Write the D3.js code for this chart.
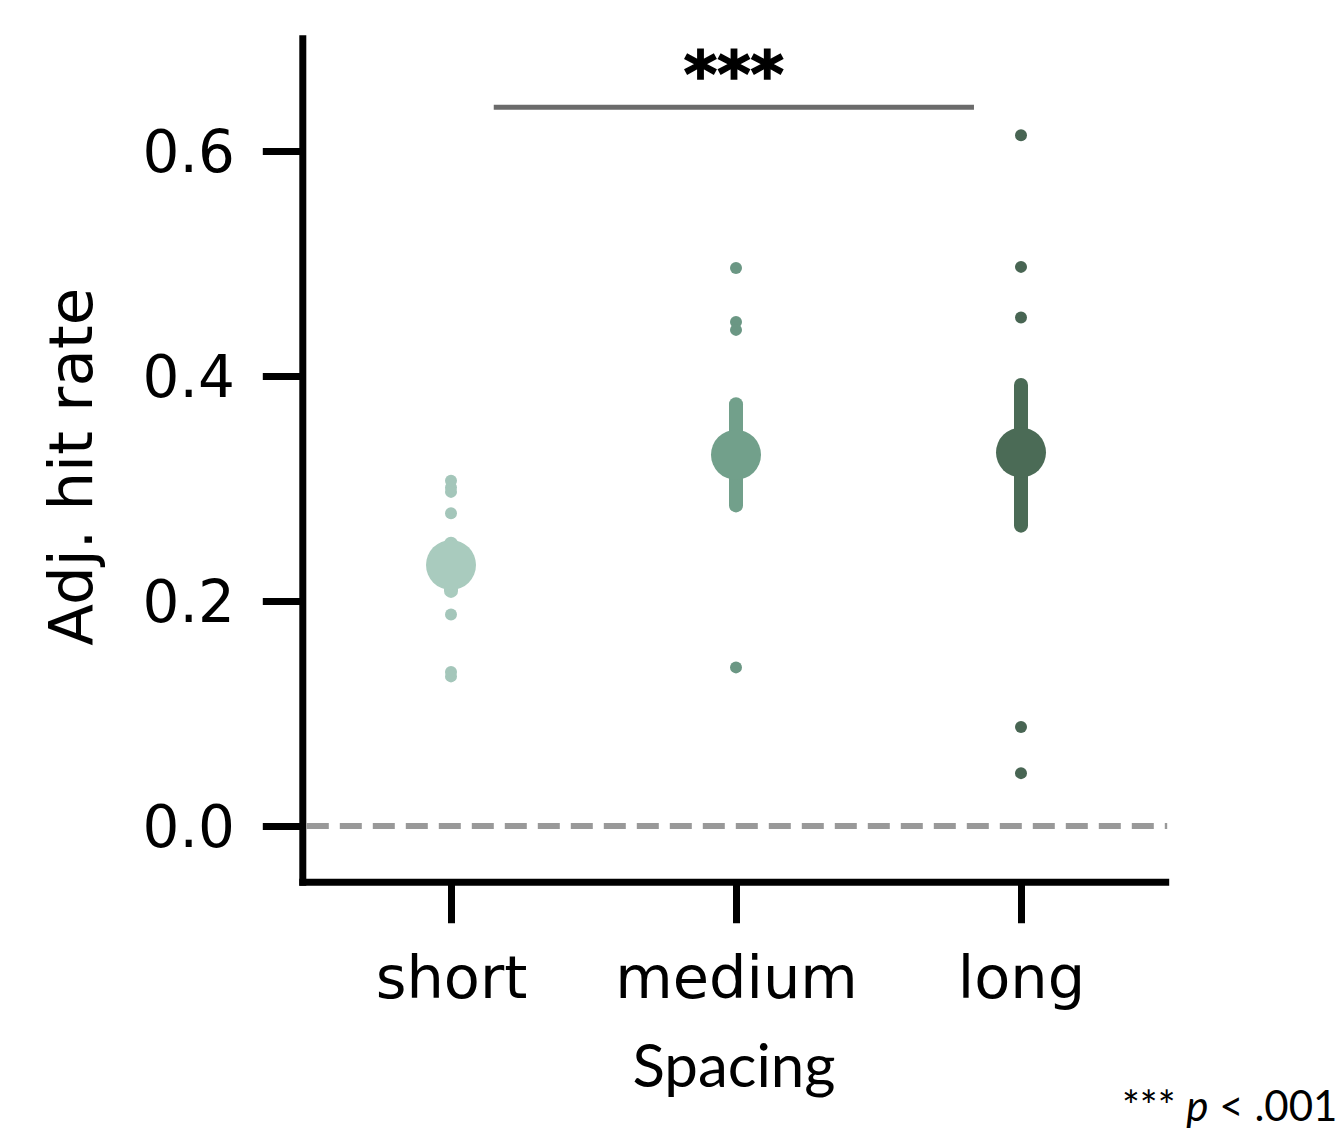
<!DOCTYPE html>
<html lang="en">
<head>
<meta charset="UTF-8">
<title>Adj. hit rate by spacing</title>
<script src="https://d3js.org/d3.v7.min.js"></script>
<style>
    body { margin: 0; background: #fff; }
    svg { display: block; }
</style>
</head>
<body>
<div id="chart"></div>
<script>
// categories and summary values
var categories = ['short', 'medium', 'long'];
var means      = [0.232, 0.330, 0.332];
var ciLow      = [0.209, 0.285, 0.267];
var ciHigh     = [0.251, 0.375, 0.392];
var colors     = ['#a9cbbe', '#72a08b', '#4b6b56'];
var dotColors  = ['#a4c6ba', '#6b9784', '#486553'];

// individual participant points that are visible
var shortDots  = [0.307, 0.301, 0.297, 0.278, 0.188, 0.137, 0.133];
var mediumDots = [0.496, 0.448, 0.441, 0.141];
var longDots   = [0.614, 0.497, 0.452, 0.088, 0.047];

var yTicks = [0.0, 0.2, 0.4, 0.6];
var yMin = -0.05, yMax = 0.703;
var xMin = -0.52, xMax = 2.52;

// significance bracket (data units)
var sigFrom = 0.15, sigTo = 1.835, sigY = 0.639;

var w = 1340, h = 1131;

var svg = d3.select('#chart').append('svg')
    .attr('width', w)
    .attr('height', h);

var x = d3.scaleLinear().domain([0, 2]).range([451, 1021]);
var y = d3.scaleLinear().domain([0, 0.6]).range([826, 151]);

var tickFont = "'DejaVu Sans', sans-serif";
var gillFont = "Lato, 'Open Sans', sans-serif";

// zero reference line
svg.append('line')
    .attr('x1', x(xMin) + 4).attr('x2', x(xMax) - 2)
    .attr('y1', y(0)).attr('y2', y(0))
    .attr('stroke', '#999')
    .attr('stroke-width', 6)
    .attr('stroke-dasharray', '22,11');

// y axis
var yAxis = d3.axisLeft(y)
    .tickValues(yTicks)
    .tickFormat(d3.format('.1f'))
    .tickSize(40)
    .tickPadding(28);
var gy = svg.append('g')
    .attr('transform', 'translate(' + x(xMin) + ',0)')
    .call(yAxis);
gy.select('.domain').remove();
gy.attr('font-family', null).attr('font-size', null);
gy.selectAll('line').attr('stroke', '#000').attr('stroke-width', 7);
gy.selectAll('text')
    .style('font-family', tickFont)
    .style('font-size', '58px')
    .attr('fill', '#000')
    .attr('dy', '0.36em');

// x axis
var xAxis = d3.axisBottom(x)
    .tickValues([0, 1, 2])
    .tickFormat(function(d) { return categories[d]; })
    .tickSize(41)
    .tickPadding(31);
var gx = svg.append('g')
    .attr('transform', 'translate(0,' + y(yMin) + ')')
    .call(xAxis);
gx.select('.domain').remove();
gx.attr('font-family', null).attr('font-size', null);
gx.selectAll('line').attr('stroke', '#000').attr('stroke-width', 7);
gx.selectAll('text')
    .style('font-family', tickFont)
    .style('font-size', '59px')
    .attr('fill', '#000')
    .attr('dy', '0.74em');

// spines
svg.append('line')
    .attr('x1', x(xMin)).attr('x2', x(xMin))
    .attr('y1', y(yMax)).attr('y2', y(yMin) + 3.5)
    .attr('stroke', '#000').attr('stroke-width', 7);
svg.append('line')
    .attr('x1', x(xMin) - 3.5).attr('x2', x(xMax))
    .attr('y1', y(yMin)).attr('y2', y(yMin))
    .attr('stroke', '#000').attr('stroke-width', 7);

// strip dots
var allDots = [shortDots, mediumDots, longDots];
allDots.forEach(function(vals, i) {
    svg.append('g').selectAll('circle')
        .data(vals)
        .enter().append('circle')
        .attr('cx', x(i))
        .attr('cy', function(d) { return y(d); })
        .attr('r', 6)
        .attr('fill', dotColors[i]);
});

// error bars + means
var idx = [0, 1, 2];
svg.append('g').selectAll('line')
    .data(idx)
    .enter().append('line')
    .attr('x1', function(i) { return x(i); })
    .attr('x2', function(i) { return x(i); })
    .attr('y1', function(i) { return y(ciHigh[i]); })
    .attr('y2', function(i) { return y(ciLow[i]); })
    .attr('stroke', function(i) { return colors[i]; })
    .attr('stroke-width', 14)
    .attr('stroke-linecap', 'round');

svg.append('g').selectAll('circle')
    .data(idx)
    .enter().append('circle')
    .attr('cx', function(i) { return x(i); })
    .attr('cy', function(i) { return y(means[i]); })
    .attr('r', 25)
    .attr('fill', function(i) { return colors[i]; });

// significance bracket
svg.append('line')
    .attr('x1', x(sigFrom)).attr('x2', x(sigTo))
    .attr('y1', y(sigY)).attr('y2', y(sigY))
    .attr('stroke', '#6b6b6b')
    .attr('stroke-width', 5);
svg.append('text')
    .attr('x', x((sigFrom + sigTo) / 2))
    .attr('y', y(sigY) - 10)
    .attr('text-anchor', 'middle')
    .attr('stroke', '#000')
    .attr('stroke-width', 1.5)
    .style('font-family', tickFont)
    .style('font-weight', 'bold')
    .style('font-size', '64px')
    .text('***');

// axis titles
svg.append('text')
    .attr('transform', 'translate(92,' + ((y(yMin) + y(yMax)) / 2 + 8) + ') rotate(-90)')
    .attr('text-anchor', 'middle')
    .style('font-family', tickFont)
    .style('font-size', '61px')
    .text('Adj. hit rate');

svg.append('text')
    .attr('x', x(1) - 2)
    .attr('y', 1087)
    .attr('text-anchor', 'middle')
    .style('font-family', gillFont)
    .style('font-size', '60px')
    .text('Spacing');

// footnote
var note = svg.append('text')
    .attr('x', 1122)
    .attr('y', 1121)
    .style('font-family', gillFont)
    .style('font-size', '42px');
note.append('tspan').text('*** ');
note.append('tspan').style('font-style', 'italic').text('p');
note.append('tspan').text(' < .001');
</script>
</body>
</html>
